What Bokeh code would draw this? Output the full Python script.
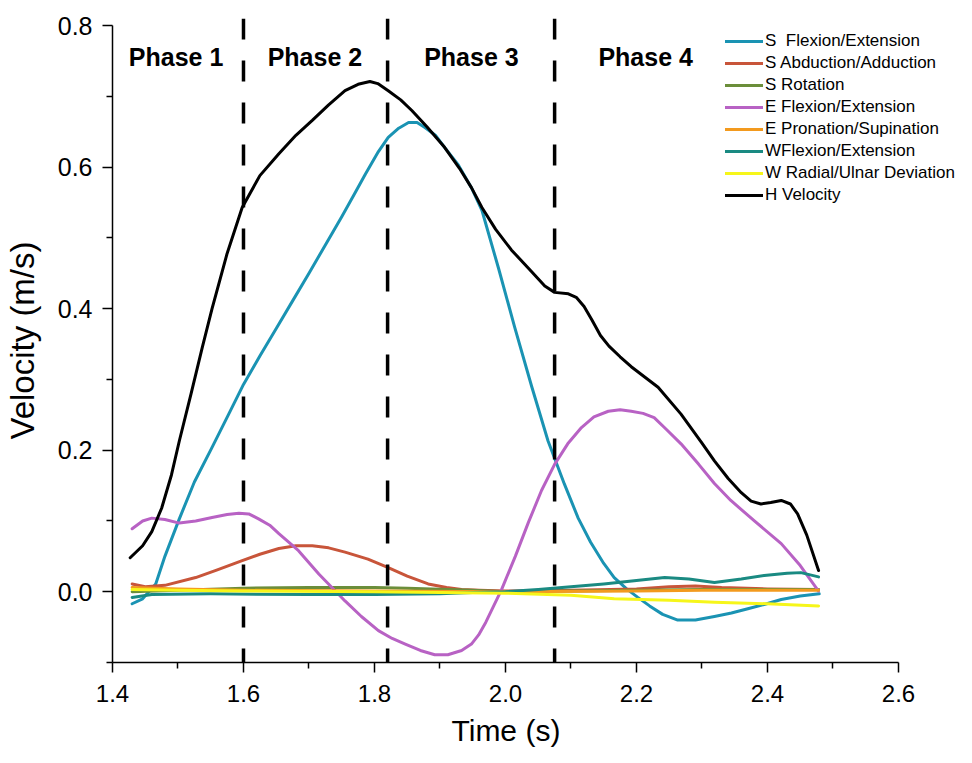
from bokeh.plotting import figure
from bokeh.models import (Range1d, Legend, LegendItem, Span, Label, Title, FixedTicker,
                          CustomJSTickFormatter)
from bokeh.embed import file_html
from bokeh.resources import INLINE

# ---------------- data ----------------
series_names = ["S  Flexion/Extension", "S Abduction/Adduction", "S Rotation",
                "E Flexion/Extension", "E Pronation/Supination", "WFlexion/Extension",
                "W Radial/Ulnar Deviation", "H Velocity"]
series_colors = ["#1a93b3", "#c8553a", "#6b8e3a", "#b862c4", "#f39a1e", "#1a8a82", "#f6f61a", "#000000"]

s_flex_t = [1.43, 1.446, 1.466, 1.48, 1.502, 1.525, 1.552, 1.578, 1.60, 1.625, 1.65, 1.675, 1.70, 1.725,
            1.75, 1.77, 1.786, 1.806, 1.821, 1.837, 1.852, 1.865, 1.877, 1.893, 1.907, 1.928, 1.948, 1.964, 1.99,
            2.014, 2.04, 2.065, 2.09, 2.111, 2.13, 2.15, 2.166, 2.185, 2.202, 2.22, 2.24, 2.263, 2.29, 2.319, 2.345,
            2.37, 2.395, 2.421, 2.45, 2.479]
s_flex_v = [-0.017, -0.010, 0.011, 0.050, 0.103, 0.155, 0.204, 0.252, 0.293, 0.333, 0.372, 0.411, 0.450, 0.490,
            0.530, 0.563, 0.590, 0.622, 0.642, 0.655, 0.663, 0.663, 0.656, 0.645, 0.628, 0.603, 0.571, 0.539, 0.455,
            0.374, 0.290, 0.213, 0.152, 0.104, 0.070, 0.040, 0.020, 0.004, -0.008, -0.020, -0.032, -0.040, -0.040,
            -0.035, -0.030, -0.024, -0.018, -0.011, -0.006, -0.003]

s_abd_t = [1.43, 1.45, 1.48, 1.527, 1.56, 1.598, 1.625, 1.654, 1.68, 1.705, 1.73, 1.755, 1.79, 1.821, 1.85,
           1.882, 1.91, 1.933, 1.96, 2.0, 2.1, 2.2, 2.25, 2.29, 2.33, 2.4, 2.478]
s_abd_v = [0.011, 0.007, 0.009, 0.020, 0.031, 0.044, 0.053, 0.061, 0.065, 0.065, 0.062, 0.056, 0.046, 0.034, 0.022,
           0.011, 0.006, 0.003, 0.002, 0.001, 0.002, 0.004, 0.007, 0.008, 0.006, 0.004, 0.003]

s_rot_t = [1.43, 1.5, 1.6, 1.7, 1.8, 1.85, 1.95, 2.0, 2.1, 2.2, 2.3, 2.478]
s_rot_v = [0.000, 0.002, 0.005, 0.006, 0.006, 0.005, 0.002, 0.000, 0.001, 0.002, 0.003, 0.003]

e_flex_t = [1.43, 1.446, 1.46, 1.48, 1.502, 1.527, 1.552, 1.575, 1.593, 1.608, 1.623, 1.64, 1.654, 1.684, 1.715,
            1.755, 1.78, 1.806, 1.827, 1.847, 1.87, 1.892, 1.912, 1.933, 1.948, 1.959, 1.97, 1.982, 1.994, 2.015,
            2.035, 2.055, 2.075, 2.095, 2.116, 2.135, 2.157, 2.175, 2.192, 2.21, 2.227, 2.245, 2.268, 2.295, 2.319,
            2.344, 2.38, 2.421, 2.45, 2.478]
e_flex_v = [0.089, 0.100, 0.104, 0.102, 0.097, 0.100, 0.105, 0.109, 0.111, 0.110, 0.103, 0.094, 0.082, 0.058, 0.025,
            -0.013, -0.035, -0.055, -0.066, -0.074, -0.083, -0.089, -0.089, -0.083, -0.074, -0.061, -0.043, -0.020,
            0.003, 0.050, 0.098, 0.143, 0.180, 0.209, 0.232, 0.247, 0.255, 0.257, 0.255, 0.252, 0.246, 0.230, 0.209,
            0.180, 0.153, 0.129, 0.100, 0.068, 0.037, 0.001]

e_pron_t = [1.43, 1.5, 1.6, 1.8, 2.0, 2.2, 2.3, 2.4, 2.478]
e_pron_v = [0.006, 0.004, 0.002, 0.001, 0.000, 0.001, 0.002, 0.002, 0.002]

w_flex_t = [1.43, 1.46, 1.55, 1.7, 1.8, 1.9, 1.95, 2.0, 2.05, 2.1, 2.15, 2.2, 2.243, 2.28, 2.319, 2.36, 2.395,
            2.43, 2.451, 2.478]
w_flex_v = [-0.008, -0.004, -0.003, -0.004, -0.004, -0.003, -0.001, 0.000, 0.003, 0.007, 0.011, 0.016, 0.020,
            0.018, 0.013, 0.018, 0.023, 0.026, 0.027, 0.021]

w_rad_t = [1.43, 1.5, 1.6, 1.8, 2.0, 2.1, 2.166, 2.25, 2.319, 2.4, 2.478]
w_rad_v = [0.003, 0.002, 0.001, 0.000, -0.002, -0.005, -0.010, -0.012, -0.015, -0.017, -0.020]

h_vel_t = [1.427, 1.446, 1.46, 1.475, 1.49, 1.502, 1.52, 1.537, 1.552, 1.575, 1.598, 1.625, 1.654, 1.68, 1.705,
           1.73, 1.755, 1.775, 1.793, 1.805, 1.821, 1.84, 1.857, 1.88, 1.907, 1.93, 1.948, 1.964, 1.985, 2.009,
           2.04, 2.06, 2.075, 2.096, 2.108, 2.12, 2.132, 2.145, 2.158, 2.175, 2.192, 2.233, 2.268, 2.3, 2.319, 2.34,
           2.36, 2.375, 2.39, 2.405, 2.421, 2.435, 2.446, 2.46, 2.478]
h_vel_v = [0.048, 0.065, 0.085, 0.118, 0.165, 0.213, 0.280, 0.345, 0.400, 0.478, 0.543, 0.588, 0.619, 0.645, 0.666,
           0.688, 0.708, 0.717, 0.721, 0.718, 0.708, 0.695, 0.680, 0.657, 0.628, 0.598, 0.571, 0.543, 0.512, 0.483,
           0.452, 0.432, 0.423, 0.421, 0.416, 0.403, 0.384, 0.362, 0.347, 0.332, 0.318, 0.289, 0.251, 0.210, 0.185,
           0.160, 0.140, 0.128, 0.124, 0.126, 0.129, 0.124, 0.110, 0.080, 0.030]

phase_bounds = [1.6, 1.82, 2.075]
phase_labels = ["Phase 1", "Phase 2", "Phase 3", "Phase 4"]
phase_label_x = [1.497, 1.709, 1.948, 2.214]
phase_label_y = 0.755

series_t = [s_flex_t, s_abd_t, s_rot_t, e_flex_t, e_pron_t, w_flex_t, w_rad_t, h_vel_t]
series_v = [s_flex_v, s_abd_v, s_rot_v, e_flex_v, e_pron_v, w_flex_v, w_rad_v, h_vel_v]

# ---------------- figure ----------------
FONT = "Liberation Sans"
p = figure(width=964, height=763, output_backend="svg", toolbar_location=None,
           x_range=Range1d(1.4, 2.6947), y_range=Range1d(-0.1, 0.81),
           min_border_left=110, min_border_right=4, min_border_top=18, min_border_bottom=101)
p.outline_line_color = None
p.xgrid.visible = False
p.ygrid.visible = False
p.background_fill_color = "white"
p.border_fill_color = "white"

for ax in (p.xaxis[0], p.yaxis[0]):
    ax.axis_line_color = "black"
    ax.axis_line_width = 1.5
    ax.major_tick_line_color = "black"
    ax.major_tick_line_width = 1.5
    ax.minor_tick_line_color = "black"
    ax.minor_tick_line_width = 1.5
    ax.major_tick_in = 0
    ax.major_tick_out = 10
    ax.minor_tick_in = 0
    ax.minor_tick_out = 6
    ax.major_label_text_font = FONT
    ax.major_label_text_color = "black"
    ax.axis_label_text_font = FONT
    ax.axis_label_text_font_style = "normal"
    ax.axis_label_text_color = "black"

p.xaxis.bounds = (1.4, 2.6)
p.yaxis.bounds = (-0.1, 0.8)
p.xaxis.ticker = FixedTicker(ticks=[1.4, 1.6, 1.8, 2.0, 2.2, 2.4, 2.6],
                             minor_ticks=[1.5, 1.7, 1.9, 2.1, 2.3, 2.5])
p.yaxis.ticker = FixedTicker(ticks=[0.0, 0.2, 0.4, 0.6, 0.8],
                             minor_ticks=[-0.1, 0.1, 0.3, 0.5, 0.7])
p.xaxis.formatter = CustomJSTickFormatter(code="return tick.toFixed(1);")
p.yaxis.formatter = CustomJSTickFormatter(code="return tick.toFixed(1);")
p.xaxis.major_label_text_font_size = "24px"
p.yaxis.major_label_text_font_size = "25px"
p.xaxis.major_label_standoff = 12
p.yaxis.major_label_standoff = 10
p.yaxis.axis_label = "Velocity (m/s)"
p.yaxis.axis_label_text_font_size = "33px"
p.yaxis.axis_label_standoff = 14

# x-axis title, centred under the 1.4-2.6 axis span like the reference
p.add_layout(Title(text="Time (s)", align="left", offset=339, standoff=14,
                   text_font=FONT, text_font_size="30px", text_font_style="normal",
                   text_color="black"), "below")

# phase boundaries
for b in phase_bounds:
    p.add_layout(Span(location=b, dimension="height", line_color="black",
                      line_width=3.5, line_dash="21 21"))

# series
items = []
for name, color, t, v in zip(series_names, series_colors, series_t, series_v):
    r = p.line(t, v, line_color=color, line_width=3, line_join="round", line_cap="round")
    items.append(LegendItem(label=name, renderers=[r]))

# phase labels
for lab, lx in zip(phase_labels, phase_label_x):
    p.add_layout(Label(x=lx, y=phase_label_y, text=lab, text_align="center",
                       text_baseline="middle", text_font=FONT, text_font_style="bold",
                       text_font_size="25px", text_color="black"))

legend = Legend(items=items, location=(613, 456), orientation="vertical",
                label_text_font=FONT, label_text_font_size="17px", label_text_color="black",
                glyph_width=38, glyph_height=22, label_height=22, spacing=0,
                label_standoff=2, padding=5, margin=0,
                border_line_color=None, background_fill_alpha=0.0)
p.add_layout(legend)

open("out.html", "w").write(file_html(p, INLINE))
